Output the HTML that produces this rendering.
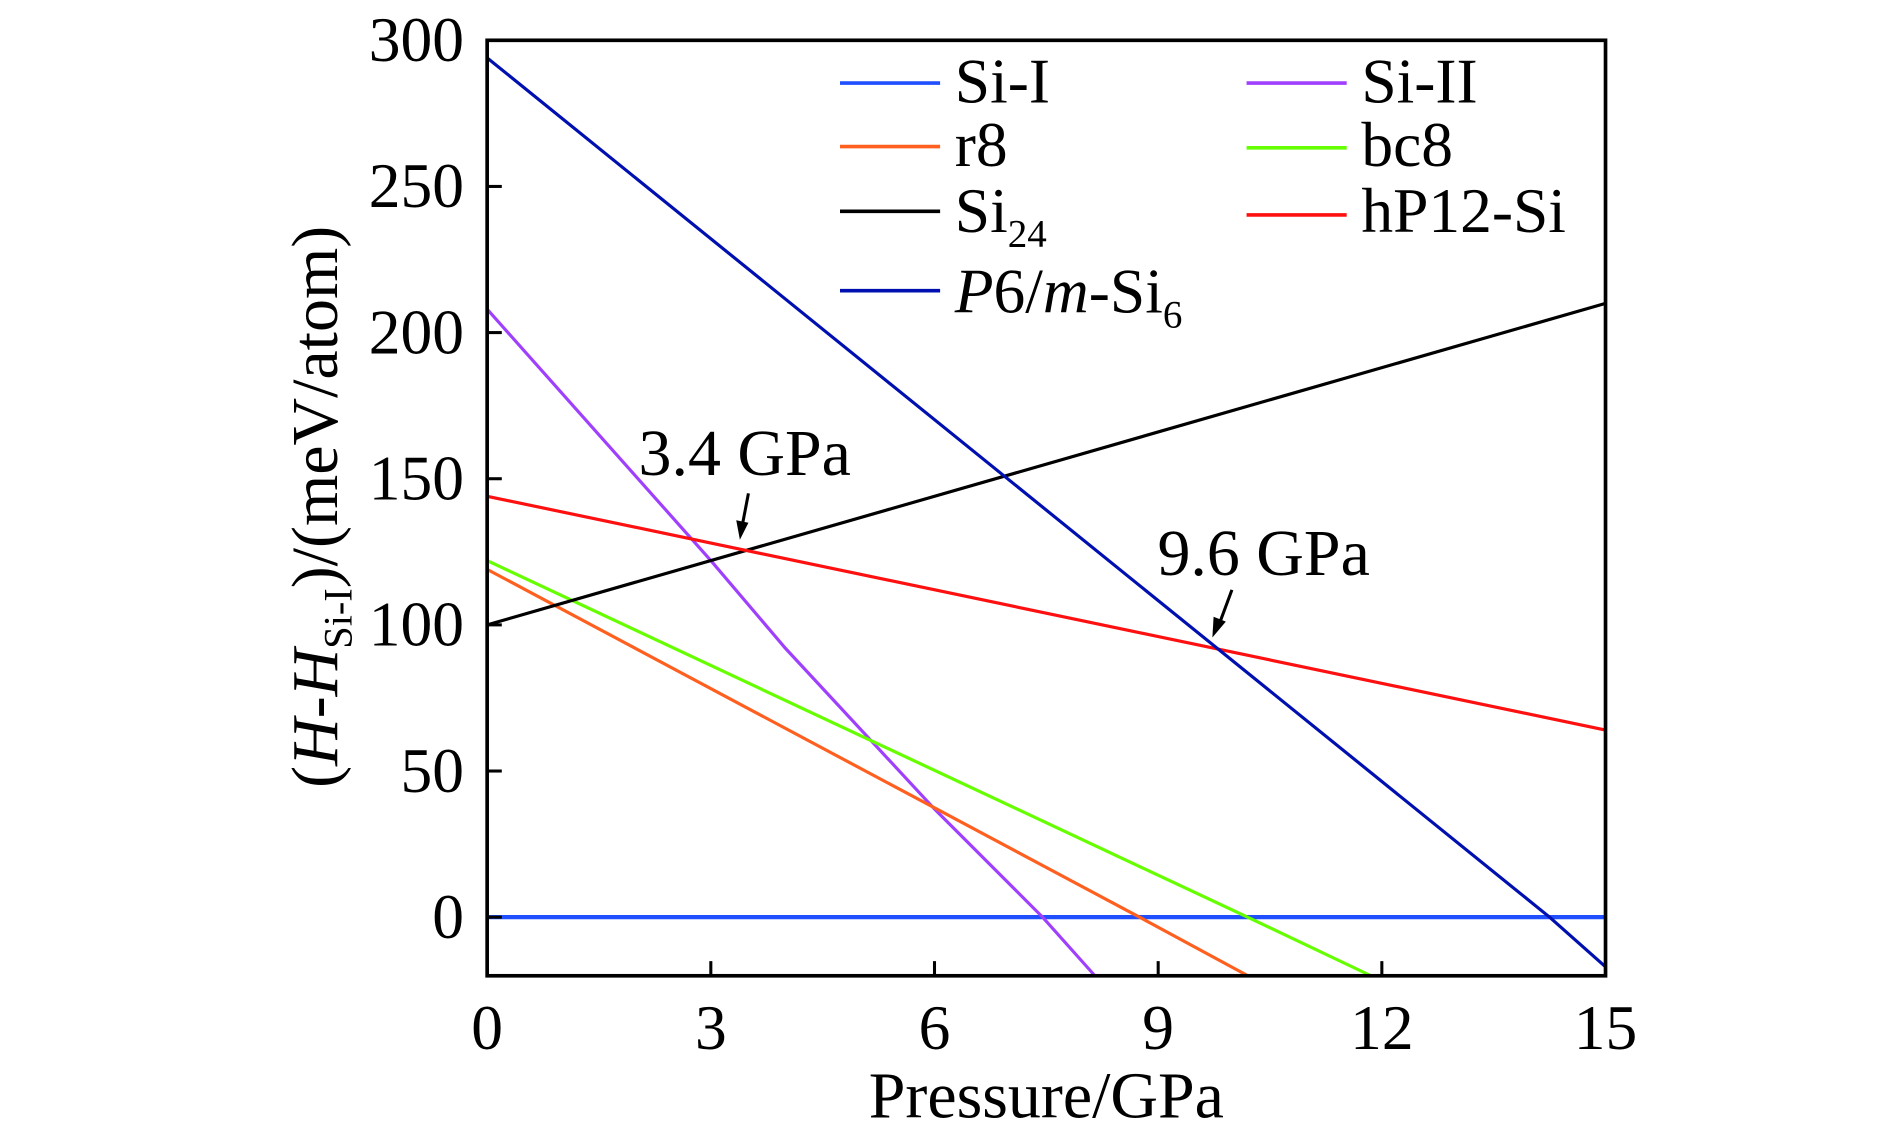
<!DOCTYPE html>
<html><head><meta charset="utf-8"><style>
html,body{margin:0;padding:0;background:#fff;}
svg{display:block;}
text{font-family:"Liberation Serif","Times New Roman",serif;fill:#000;}
</style></head><body>
<svg id="chart" width="1890" height="1126" viewBox="0 0 1548 922" preserveAspectRatio="none" xmlns="http://www.w3.org/2000/svg" font-family="Liberation Serif, serif">
<g id="marks"></g>
<g id="axes"></g>
<g id="legend" font-size="52">
  <line x1="688" y1="68" x2="770" y2="68" stroke="#1f4fff" stroke-width="3"/>
  <text x="782" y="84">Si-I</text>
  <line x1="1021" y1="68" x2="1103" y2="68" stroke="#a040ff" stroke-width="3"/>
  <text x="1115" y="84">Si-II</text>
  <line x1="688" y1="120" x2="770" y2="120" stroke="#ff6020" stroke-width="3"/>
  <text x="782" y="136">r8</text>
  <line x1="1021" y1="121" x2="1103" y2="121" stroke="#66ff00" stroke-width="3"/>
  <text x="1115" y="136">bc8</text>
  <line x1="688" y1="173" x2="770" y2="173" stroke="#000" stroke-width="3"/>
  <text x="782" y="190">Si<tspan font-size="32" dy="12">24</tspan></text>
  <line x1="1021" y1="176" x2="1103" y2="176" stroke="#ff1010" stroke-width="3"/>
  <text x="1115" y="190">hP12-Si</text>
  <line x1="688" y1="238" x2="770" y2="238" stroke="#0010b0" stroke-width="3"/>
  <text x="782" y="256"><tspan font-style="italic">P</tspan>6/<tspan font-style="italic">m</tspan>-Si<tspan font-size="32" dy="12">6</tspan></text>
</g>
<text x="523" y="389" font-size="54">3.4 GPa</text>
<text x="948" y="471" font-size="54">9.6 GPa</text>
<g><line x1="613" y1="404" x2="608" y2="430" stroke="#000" stroke-width="2.5"/><polygon points="603,426 613,428 606,442" fill="#000"/></g>
<g><line x1="1009" y1="483" x2="999" y2="510" stroke="#000" stroke-width="2.5"/><polygon points="994,505 1004,509 993,522" fill="#000"/></g>
<text x="857" y="915" text-anchor="middle" font-size="54">Pressure/GPa</text>
<text transform="translate(276,415) rotate(-90)" text-anchor="middle" font-size="54">(<tspan font-style="italic">H</tspan>-<tspan font-style="italic">H</tspan><tspan font-size="33" dy="12">Si-I</tspan><tspan dy="-12">)/(meV/atom)</tspan></text>
</svg>
<script>
const xTicks=[0,3,6,9,12,15];
const yTicks=[0,50,100,150,200,250,300];
const seriesNames=["Si-I","Si-II","r8","bc8","Si24","hP12-Si","P6/m-Si6"];
const seriesColors=["#1f4fff","#a040ff","#ff6020","#66ff00","#000000","#ff1010","#0010b0"];
const siIP=[0,15]; const siIV=[0,0];
const siIIP=[0,3,4,6,7.45,8.15]; const siIIV=[208,122,92,37,0,-20];
const r8P=[0,8.75,10.2]; const r8V=[119,0,-20];
const bc8P=[0,10.2,11.85]; const bc8V=[122,0,-20];
const si24P=[0,15]; const si24V=[100,210];
const hp12P=[0,15]; const hp12V=[144,64];
const p6mP=[0,14.25,15]; const p6mV=[294,0,-17];
const NS="http://www.w3.org/2000/svg";
const X0=399,X1=1315,Y0=751,YT=33,YB=799;
function sx(p){return X0+(X1-X0)*p/15;}
function sy(v){return Y0-(Y0-YT)*v/300;}
const marks=document.getElementById('marks');
const allP=[siIP,siIIP,r8P,bc8P,si24P,hp12P,p6mP];
const allV=[siIV,siIIV,r8V,bc8V,si24V,hp12V,p6mV];
allP.forEach((ps,i)=>{
  const pl=document.createElementNS(NS,'polyline');
  pl.setAttribute('points',ps.map((p,j)=>sx(p)+','+sy(allV[i][j])).join(' '));
  pl.setAttribute('fill','none');
  pl.setAttribute('stroke',seriesColors[i]);
  pl.setAttribute('stroke-width',i==0?3.5:2.6);
  
  
  marks.appendChild(pl);
});
const axes=document.getElementById('axes');
const fr=document.createElementNS(NS,'rect');
fr.setAttribute('x',X0);fr.setAttribute('y',YT);fr.setAttribute('width',X1-X0);fr.setAttribute('height',YB-YT);
fr.setAttribute('fill','none');fr.setAttribute('stroke','#000');fr.setAttribute('stroke-width',3);


axes.appendChild(fr);
xTicks.forEach(t=>{
  const l=document.createElementNS(NS,'line');
  l.setAttribute('x1',sx(t));l.setAttribute('x2',sx(t));l.setAttribute('y1',YB);l.setAttribute('y2',YB-12);
  l.setAttribute('stroke','#000');l.setAttribute('stroke-width',2.5);
  
  
  axes.appendChild(l);
  const tx=document.createElementNS(NS,'text');
  tx.setAttribute('x',sx(t));tx.setAttribute('y',859);tx.setAttribute('text-anchor','middle');tx.setAttribute('font-size','52');
  tx.textContent=t;
  
  
  axes.appendChild(tx);
});
yTicks.forEach(t=>{
  const l=document.createElementNS(NS,'line');
  l.setAttribute('x1',X0);l.setAttribute('x2',X0+12);l.setAttribute('y1',sy(t));l.setAttribute('y2',sy(t));
  l.setAttribute('stroke','#000');l.setAttribute('stroke-width',2.5);
  
  
  axes.appendChild(l);
  const tx=document.createElementNS(NS,'text');
  tx.setAttribute('x',380);tx.setAttribute('y',sy(t)+17);tx.setAttribute('text-anchor','end');tx.setAttribute('font-size','52');
  tx.textContent=t;
  
  
  axes.appendChild(tx);
});
</script>
</body></html>
